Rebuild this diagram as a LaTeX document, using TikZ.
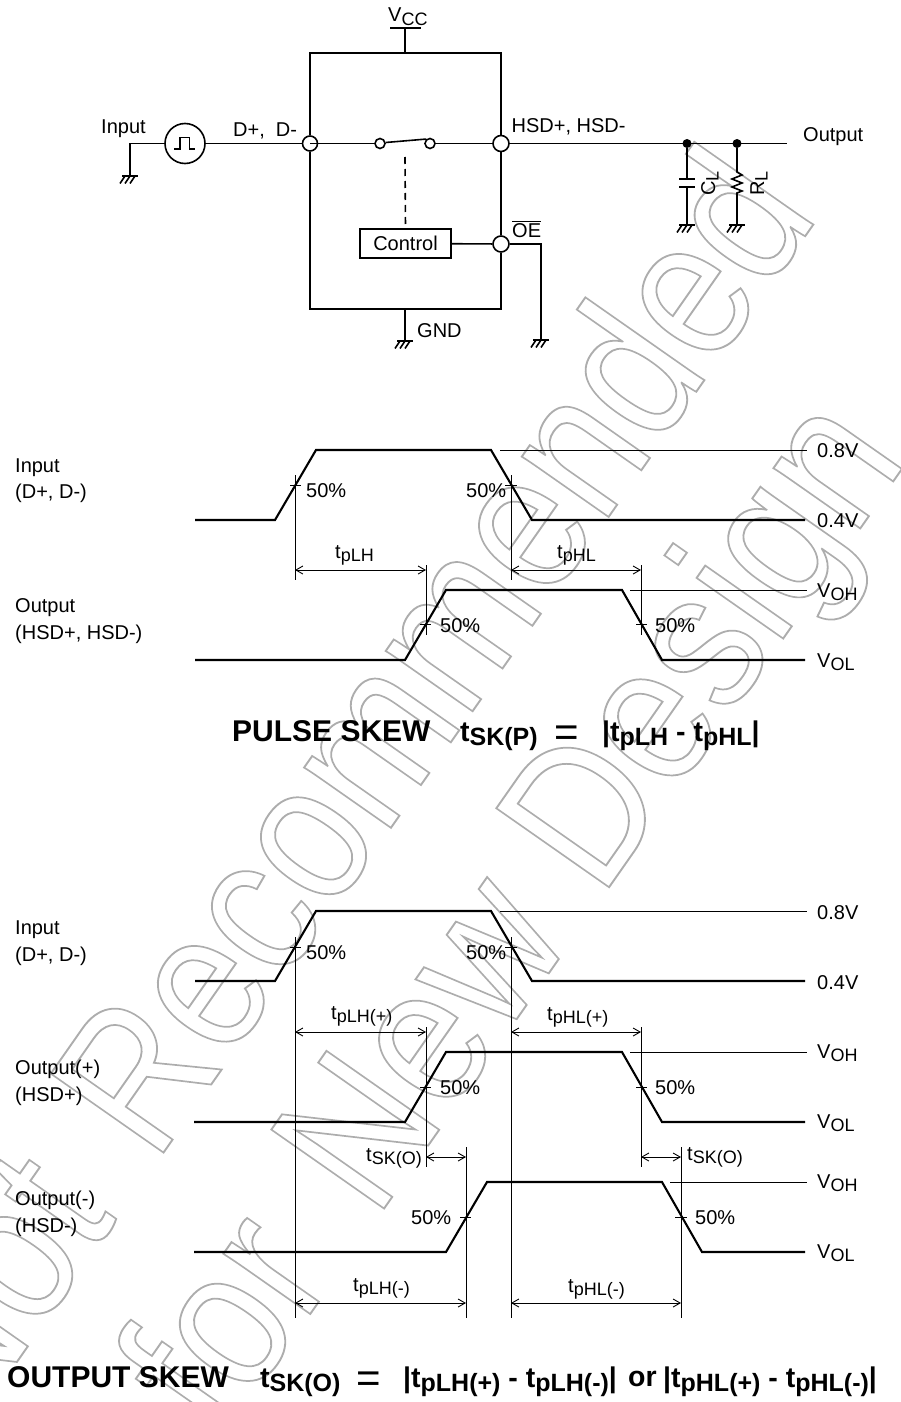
\documentclass[tikz,border=0pt]{standalone}
\usepackage{fontspec}
\setmainfont{Liberation Sans}
\newfontfamily\wmfont{Liberation Sans}
\usetikzlibrary{arrows.meta}

\newcommand{\sbs}[1]{\raisebox{-3.5pt}{\fontsize{18}{18}\selectfont #1}}
\newcommand{\sbb}[1]{\raisebox{-4.5pt}{\fontsize{25}{25}\selectfont #1}}
\newcommand{\grd}[1]{\draw [wire] ([shift={(-8,0)}]#1) -- ([shift={(8,0)}]#1);
  \foreach \hx in {-5,0,5} {\draw [wire] ([shift={(\hx,0)}]#1) -- ([shift={(\hx-5,7.5)}]#1);}}
\newcommand{\wmtext}[1]{\wmfont\special{pdf:code 1 Tr 1.9 w 0.68 G}#1\special{pdf:code 0 Tr 0 G}}

\tikzset{
  wire/.style={line width=1.6pt},
  wave/.style={line width=2.1pt,line join=miter},
  thinl/.style={line width=0.9pt},
  dimarrow/.style={line width=0.9pt,{Straight Barb[length=7pt,width=8pt]}-{Straight Barb[length=7pt,width=8pt]}},
  term/.style={circle,draw,line width=1.6pt,inner sep=0,minimum size=#1},
  lbl/.style={font=\fontsize{20}{24}\selectfont,inner sep=0,anchor=base west},
  bld/.style={font=\fontsize{28.5}{32}\selectfont\bfseries,inner sep=0,anchor=base west},
  ttl/.style={font=\fontsize{30}{34}\selectfont\bfseries,inner sep=0,anchor=base west},
  eqs/.style={font=\fontsize{42}{44}\selectfont,inner sep=0,anchor=base west},
  wmark/.style={font=\fontsize{200}{200}\selectfont,inner sep=0,anchor=base east,rotate=55}
}

\begin{document}
\begin{tikzpicture}[x=1pt,y=-1pt]
\useasboundingbox (0,0) rectangle (901,1402);

% watermark
\node [wmark,xscale=0.854] (wmone) at (820,215) {\wmtext{Not\hspace{22pt} Recommended}};
\node [wmark,xscale=0.861] (wmtwo) at (908.6,459.4) {\wmtext{for\hspace{25pt} New Design}};

% switch circuit
\node [term=40] (src) at (185,143.5) {};
\node [term=15] (termin) at (310,143.5) {};
\node [term=16] (termhsd) at (501,143.5) {};
\node [term=16] (termoe) at (501,244) {};
\node [term=10] (swa) at (380,143.5) {};
\node [term=10] (swb) at (430,143.5) {};
\node [draw,line width=1.6pt,minimum width=91,minimum height=29,inner sep=0,font=\fontsize{20}{24}\selectfont] (ctrl) at (405.5,243.5) {Control};
\node [circle,fill,inner sep=0,minimum size=9] (cjunc) at (687,143.5) {};
\node [circle,fill,inner sep=0,minimum size=9] (rjunc) at (737,143.5) {};

\coordinate (boxtl) at (310,53); \coordinate (boxtr) at (501,53);
\coordinate (boxbl) at (310,309); \coordinate (boxbr) at (501,309);
\coordinate (vcctop) at (405,28); \coordinate (vccbox) at (405,53);
\coordinate (gndbox) at (405,309); \coordinate (gndmid) at (405,341);
\coordinate (gndin) at (130,176); \coordinate (gndoe) at (541,340);
\coordinate (gndc) at (687,225); \coordinate (gndr) at (737,225);
\coordinate (outend) at (787,143.5);

\draw [wire] (termin) -- (boxtl) -- (boxtr) -- (termhsd) -- (termoe) -- (boxbr) -- (boxbl) -- (termin);
\draw [wire] (vccbox) -- (vcctop); \draw [wire] (390,28) -- (421,28);
\draw [wire] (gndbox) -- (gndmid); \grd{gndmid}
\draw [wire] (src.west) -| (gndin); \grd{gndin}
\draw [wire] (src) -- (termin);
\draw [wire] (termin.center) -- (swa); \draw [wire] (swb) -- (termhsd);
\draw [wire] (swa.10) -- (swb.130);
\draw [wire,dashed,dash pattern=on 7pt off 5pt] (405,157) -- (ctrl.north);
\draw [wire] (ctrl) -- (termoe);
\draw [wire] (termoe) -| (gndoe); \grd{gndoe}
\draw [wire] (termhsd) -- (outend);
\draw [wire] (174,149) -- (180,149) -- (180,137.5) -- (189.5,137.5) -- (189.5,149) -- (195,149);

% load
\draw [wire] (cjunc) -- (687,179); \draw [wire] (679,179) -- (695,179);
\draw [wire] (679,187) -- (695,187); \draw [wire] (687,187) -- (gndc); \grd{gndc}
\draw [wire] (rjunc) -- (737,172) -- (742,175) -- (732,179) -- (742,183) -- (732,187) -- (742,191) -- (737,193) -- (gndr); \grd{gndr}

\node [lbl] (vcc) at (388,22) {V\sbs{CC}};
\node [lbl] (inlbl) at (101,134) {Input};
\node [lbl] (dlbl) at (233,136) {D+,\ \ D-};
\node [lbl] (hsdlbl) at (511.5,132) {HSD+, HSD-};
\node [lbl] (oelbl) at (512,237) {$\overline{\mbox{OE}}$};
\node [lbl] (gndlbl) at (417,337) {GND};
\node [lbl] (outlbl) at (803,142) {Output};
\node [lbl,rotate=90] (cl) at (715,196) {C\sbs{L}};
\node [lbl,rotate=90] (rl) at (764,196) {R\sbs{L}};

% pulse skew
\draw [wave] (195,520) -- (275,520) -- (316,450) -- (491,450) -- (532,520) -- (805,520);
\draw [wave] (195,660) -- (405,660) -- (446,590) -- (622,590) -- (662,660) -- (805,660);
\draw [thinl] (500,450) -- (807,450); \draw [thinl] (630,590) -- (807,590);

\draw [thinl] (295,475) -- (295,580); \draw [thinl] (290,485) -- (301,485);
\draw [thinl] (511,475) -- (511,580); \draw [thinl] (505,485) -- (517,485);
\draw [thinl] (426,565) -- (426,635); \draw [thinl] (420,624) -- (431,624);
\draw [thinl] (641,565) -- (641,635); \draw [thinl] (636,624) -- (647,624);

\coordinate (plha) at (295,570); \coordinate (plhb) at (426,570);
\coordinate (phla) at (511,570); \coordinate (phlb) at (641,570);
\draw [dimarrow] (plha) -- (plhb); \draw [dimarrow] (phla) -- (phlb);

\node [lbl] at (15,472) {Input}; \node [lbl] at (15,498) {(D+, D-)};
\node [lbl] at (15,612) {Output}; \node [lbl] at (15,639) {(HSD+, HSD-)};
\node [lbl] at (306,497) {50\%}; \node [lbl] at (466,497) {50\%};
\node [lbl] at (440,632) {50\%}; \node [lbl] at (655,632) {50\%};
\node [lbl] at (335,558) {t\sbs{pLH}}; \node [lbl] at (557,558) {t\sbs{pHL}};
\node [lbl] at (817,457) {0.8V}; \node [lbl] at (817,527) {0.4V};
\node [lbl] at (817,597) {V\sbs{OH}}; \node [lbl] at (817,667) {V\sbs{OL}};

\node [ttl] at (232,741) {PULSE SKEW};
\node [bld] at (460,741) {t\sbb{SK(P)}};
\node [eqs] at (554.5,746) {=};
\node [bld] at (602,741) {|t\sbb{pLH} - t\sbb{pHL}|};

% output skew
\draw [wave] (195,981) -- (275,981) -- (316,911) -- (491,911) -- (532,981) -- (805,981);
\draw [wave] (194,1122) -- (405,1122) -- (446,1052) -- (622,1052) -- (662,1122) -- (805,1122);
\draw [wave] (194,1252) -- (446,1252) -- (487,1182) -- (662,1182) -- (702,1252) -- (805,1252);
\draw [thinl] (500,911) -- (807,911); \draw [thinl] (630,1052) -- (807,1052); \draw [thinl] (670,1182) -- (807,1182);

\draw [thinl] (295,937) -- (295,1318); \draw [thinl] (290,947) -- (301,947);
\draw [thinl] (511,937) -- (511,1318); \draw [thinl] (505,947) -- (517,947);
\draw [thinl] (426,1027) -- (426,1167); \draw [thinl] (420,1087) -- (431,1087);
\draw [thinl] (641,1027) -- (641,1167); \draw [thinl] (636,1087) -- (647,1087);
\draw [thinl] (466,1147) -- (466,1318); \draw [thinl] (460,1217) -- (471,1217);
\draw [thinl] (681,1147) -- (681,1318); \draw [thinl] (675,1217) -- (687,1217);

\coordinate (plpa) at (295,1032); \coordinate (plpb) at (426,1032);
\coordinate (phpa) at (511,1032); \coordinate (phpb) at (641,1032);
\coordinate (skla) at (426,1157); \coordinate (sklb) at (466,1157);
\coordinate (skra) at (641,1157); \coordinate (skrb) at (681,1157);
\coordinate (plma) at (295,1303); \coordinate (plmb) at (466,1303);
\coordinate (phma) at (511,1303); \coordinate (phmb) at (681,1303);
\draw [dimarrow] (plpa) -- (plpb); \draw [dimarrow] (phpa) -- (phpb);
\draw [dimarrow] (skla) -- (sklb); \draw [dimarrow] (skra) -- (skrb);
\draw [dimarrow] (plma) -- (plmb); \draw [dimarrow] (phma) -- (phmb);

\node [lbl] at (15,934) {Input}; \node [lbl] at (15,961) {(D+, D-)};
\node [lbl] at (15,1074) {Output(+)}; \node [lbl] at (15,1101) {(HSD+)};
\node [lbl] at (15,1205) {Output(-)}; \node [lbl] at (15,1232) {(HSD-)};
\node [lbl] at (306,959) {50\%}; \node [lbl] at (466,959) {50\%};
\node [lbl] at (440,1094) {50\%}; \node [lbl] at (655,1094) {50\%};
\node [lbl] at (411,1224) {50\%}; \node [lbl] at (695,1224) {50\%};
\node [lbl] at (331,1019) {t\sbs{pLH(+)}}; \node [lbl] at (547,1020) {t\sbs{pHL(+)}};
\node [lbl] at (366,1161) {t\sbs{SK(O)}}; \node [lbl] at (687,1160) {t\sbs{SK(O)}};
\node [lbl] at (353,1291) {t\sbs{pLH(-)}}; \node [lbl] at (568,1292) {t\sbs{pHL(-)}};
\node [lbl] at (817,919) {0.8V}; \node [lbl] at (817,989) {0.4V};
\node [lbl] at (817,1058) {V\sbs{OH}}; \node [lbl] at (817,1128) {V\sbs{OL}};
\node [lbl] at (817,1188) {V\sbs{OH}}; \node [lbl] at (817,1258) {V\sbs{OL}};

\node [ttl] at (7,1387) {OUTPUT SKEW};
\node [bld] at (260,1387) {t\sbb{SK(O)}};
\node [eqs] at (356.5,1392) {=};
\node [bld] at (403,1387) {|t\sbb{pLH(+)} - t\sbb{pLH(-)}|};
\node [bld] at (628,1386) {or};
\node [bld] at (663,1387) {|t\sbb{pHL(+)} - t\sbb{pHL(-)}|};

\end{tikzpicture}
\end{document}
